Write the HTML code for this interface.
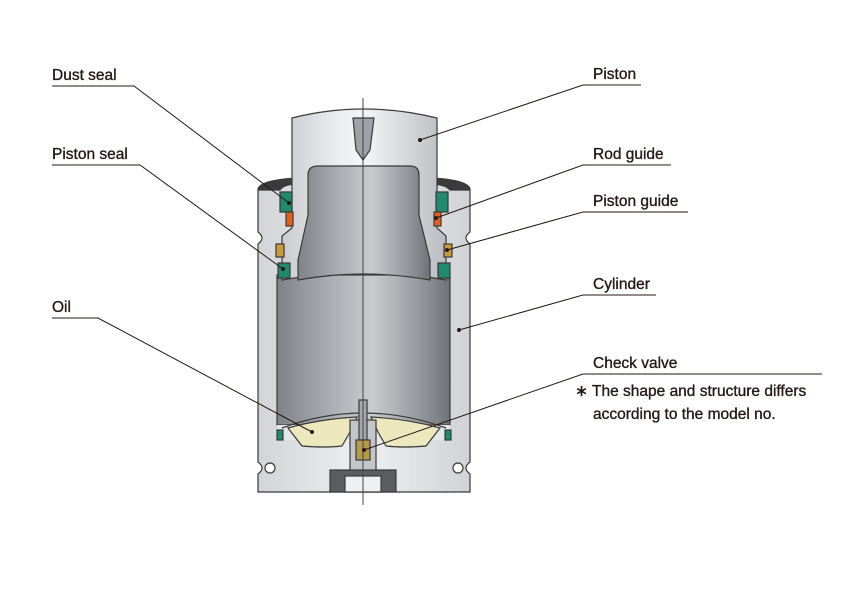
<!DOCTYPE html>
<html><head><meta charset="utf-8"><style>
html,body{margin:0;padding:0;background:#fff}
svg{display:block}
text{font-family:"Liberation Sans",sans-serif;font-size:15.5px;fill:#231815;stroke:#231815;stroke-width:0.35}
</style></head><body>
<svg width="846" height="600" viewBox="0 0 846 600" xmlns="http://www.w3.org/2000/svg">
<defs>
<linearGradient id="lg" x1="0" x2="1" y1="0" y2="0">
<stop offset="0" stop-color="#c9cbcf"/><stop offset="0.35" stop-color="#eceef0"/><stop offset="0.5" stop-color="#f4f5f6"/><stop offset="0.75" stop-color="#d6d8db"/><stop offset="1" stop-color="#b9bcc0"/>
</linearGradient>
<linearGradient id="dg" x1="0" x2="1" y1="0" y2="0">
<stop offset="0" stop-color="#7f8287"/><stop offset="0.3" stop-color="#a9acb0"/><stop offset="0.55" stop-color="#c9cbce"/><stop offset="0.8" stop-color="#9a9da1"/><stop offset="1" stop-color="#6f7276"/>
</linearGradient>
<linearGradient id="wg" x1="0" x2="1" y1="0" y2="0">
<stop offset="0" stop-color="#d2d4d7"/><stop offset="0.5" stop-color="#eef0f1"/><stop offset="1" stop-color="#d0d2d5"/>
</linearGradient>
</defs>
<g stroke="#3a3a3a" stroke-width="1.2">
<path d="M258,190 Q258,180 300,178 L430,178 Q470,180 470,190 L470,232 Q462,238 470,244 L470,462 Q462,468 470,474 L470,492 L258,492 L258,474 Q266,468 258,462 L258,244 Q266,238 258,232 Z" fill="url(#wg)"/>
<path d="M258,190 Q258,180 300,178 L430,178 Q470,180 470,190 L450,190 Q445,184 430,184 L300,184 Q283,184 280,190 Z" fill="#3b3b3d"/>
<circle cx="270" cy="468" r="5" fill="#fff"/><circle cx="458" cy="468" r="5" fill="#fff"/>
<rect x="277" y="275" width="173" height="150" fill="url(#dg)"/>
<path d="M292,118 Q363,100 437,118 L437,228 L446,236 L446,280 Q363,265 282,280 L282,236 L292,228 Z" fill="url(#lg)"/>
<path d="M308,175 Q308,166 318,166 L410,166 Q419,166 419,175 L419,215 L430,260 L430,280 Q363,268 298,280 L298,260 L308,215 Z" fill="url(#dg)"/>
<path d="M353,118 L374,118 L370,150 L363,160 L356,150 Z" fill="#9ea1a5"/>
<path d="M280,192 L292,192 L292,212 L280,212 Z" fill="#1f8a6c"/>
<path d="M436,192 L448,192 L448,212 L436,212 Z" fill="#1f8a6c"/>
<rect x="286" y="212" width="7" height="14" fill="#e85d1c"/>
<rect x="434" y="212" width="7" height="14" fill="#e85d1c"/>
<rect x="276" y="244" width="8" height="13" fill="#c99a3a"/>
<rect x="444" y="244" width="8" height="13" fill="#c99a3a"/>
<path d="M278,263 L290,263 L290,278 L278,278 Z" fill="#1f8a6c"/>
<path d="M438,263 L450,263 L450,278 L438,278 Z" fill="#1f8a6c"/>
<path d="M277,425 L450,425 L450,440 L277,440 Z" fill="#e4e6e8" stroke="none"/>
<rect x="277" y="430" width="6" height="10" fill="#1f8a6c"/>
<rect x="445" y="430" width="6" height="10" fill="#1f8a6c"/>
<path d="M282,428 Q363,398 446,428" fill="none"/>
<path d="M288,428 L302,446 Q325,448 342,446 L350,432 L357,417 Q320,419 288,428 Z" fill="#ece7bd"/>
<path d="M440,428 L426,446 Q403,448 386,446 L378,432 L371,417 Q408,419 440,428 Z" fill="#ece7bd"/>
<rect x="350" y="420" width="26" height="70" fill="#c3c5c8"/>
<rect x="359" y="400" width="8" height="40" fill="#a5a8ac"/>
<rect x="356" y="440" width="14" height="20" fill="#b59a4a"/>
<rect x="330" y="470" width="66" height="22" fill="#5b5d60"/>
<rect x="345" y="476" width="36" height="16" fill="#eef0f1"/>
</g>
<line x1="363" y1="98" x2="363" y2="505" stroke="#444" stroke-width="1"/>
<g stroke="#231815" stroke-width="1" fill="none">
<polyline points="52,86 134,86 289,203"/>
<polyline points="52,165 140,165 283,269"/>
<polyline points="52,318 98,318 312,432"/>
<polyline points="641,85 583,85 420,140"/>
<polyline points="671,165 583,165 436,218"/>
<polyline points="688,212 583,212 447,250"/>
<polyline points="656,295 583,295 459,330"/>
<polyline points="822,374 583,374 364,450"/>
</g>
<g fill="#231815">
<circle cx="289" cy="203" r="2"/><circle cx="283" cy="269" r="2"/><circle cx="312" cy="432" r="2"/>
<circle cx="420" cy="140" r="2"/><circle cx="436" cy="218" r="2"/><circle cx="447" cy="250" r="2"/>
<circle cx="459" cy="330" r="2"/><circle cx="364" cy="450" r="2"/>
</g>
<text x="52" y="80">Dust seal</text>
<text x="52" y="159">Piston seal</text>
<text x="52" y="312">Oil</text>
<text x="593" y="79">Piston</text>
<text x="593" y="159">Rod guide</text>
<text x="593" y="206">Piston guide</text>
<text x="593" y="289">Cylinder</text>
<text x="593" y="368">Check valve</text>
<text x="575" y="396">∗ The shape and structure differs</text>
<text x="593" y="419">according to the model no.</text>
</svg>
</body></html>
